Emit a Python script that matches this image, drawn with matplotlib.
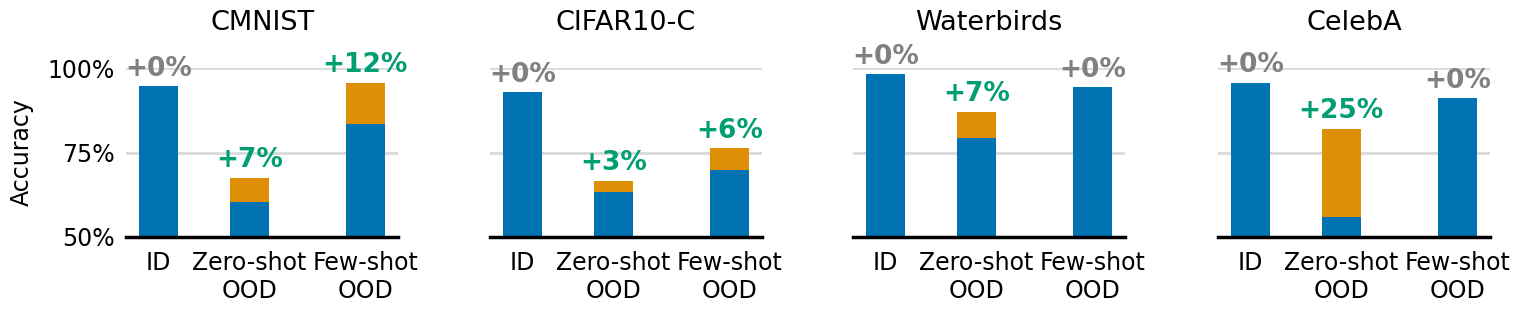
import matplotlib
matplotlib.use("Agg")
import matplotlib.pyplot as plt

datasets = ["CMNIST", "CIFAR10-C", "Waterbirds", "CelebA"]
categories = ["ID", "Zero-shot\nOOD", "Few-shot\nOOD"]
# base accuracy (blue) and improved accuracy (top of orange)
base = {
    "CMNIST": [94.6, 60.4, 83.4],
    "CIFAR10-C": [92.9, 63.2, 69.9],
    "Waterbirds": [98.3, 79.3, 94.3],
    "CelebA": [95.7, 55.9, 91.1],
}
improved = {
    "CMNIST": [94.6, 67.6, 95.7],
    "CIFAR10-C": [92.9, 66.7, 76.2],
    "Waterbirds": [98.3, 87.1, 94.3],
    "CelebA": [95.7, 82.1, 91.1],
}
gain_labels = {
    "CMNIST": ["+0%", "+7%", "+12%"],
    "CIFAR10-C": ["+0%", "+3%", "+6%"],
    "Waterbirds": ["+0%", "+7%", "+0%"],
    "CelebA": ["+0%", "+25%", "+0%"],
}
yticks = [50, 75, 100]
ytick_labels = ["50%", "75%", "100%"]

BLUE = "#0173b2"
ORANGE = "#de8f05"
GREEN = "#029e73"
GREY = "#808080"

W, H = 1522, 311
fig = plt.figure(figsize=(W / 100, H / 100), dpi=100)
plt.rcParams["font.family"] = "DejaVu Sans"

positions = [0, 1, 2.28]
lefts = [126, 490, 853, 1218]
ax_w = 272
ax_bottom = 237
ax_top = 68

for i, name in enumerate(datasets):
    ax = fig.add_axes([lefts[i] / W, 1 - ax_bottom / H, ax_w / W, (ax_bottom - ax_top) / H])
    b = base[name]
    imp = improved[name]
    ax.bar(positions, [v - 50 for v in b], bottom=50, width=0.43, color=BLUE, zorder=3,
           edgecolor="none")
    ax.bar(positions, [u - v for u, v in zip(imp, b)], bottom=b, width=0.43, color=ORANGE,
           zorder=3, edgecolor="none")
    for x, top, lab in zip(positions, imp, gain_labels[name]):
        col = GREY if lab == "+0%" else GREEN
        ax.annotate(lab, (x, top), xytext=(0, 3), textcoords="offset points",
                    ha="center", va="bottom", fontsize=19, fontweight="bold", color=col,
                    annotation_clip=False, zorder=5)
    ax.set_ylim(50, 100)
    ax.set_xlim(-0.36, 2.64)
    ax.set_yticks(yticks)
    if i == 0:
        ax.set_yticklabels(ytick_labels, fontsize=17)
    else:
        ax.set_yticklabels([])
    ax.set_xticks(positions)
    ax.set_xticklabels(categories, fontsize=17)
    ax.tick_params(axis="both", length=0)
    ax.tick_params(axis="x", pad=10)
    ax.tick_params(axis="y", pad=8)
    for s in ["top", "right", "left"]:
        ax.spines[s].set_visible(False)
    ax.spines["bottom"].set_linewidth(2.5)
    ax.spines["bottom"].set_color("black")
    ax.spines["bottom"].set_zorder(4)
    ax.yaxis.grid(True, color="#d9d9d9", linewidth=2, zorder=0)
    ax.set_axisbelow(True)
    ax.set_title(name, fontsize=19.5, pad=27)

fig.text(22 / W, 1 - 152 / H, "Accuracy", rotation=90, fontsize=17, ha="center", va="center")

fig.savefig("out.png", dpi=100)
